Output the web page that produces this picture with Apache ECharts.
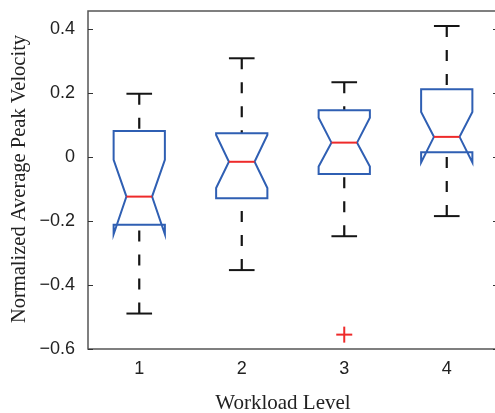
<!DOCTYPE html>
<html lang="en">
<head>
<meta charset="UTF-8">
<title>Normalized Average Peak Velocity</title>
<script src="https://cdn.jsdelivr.net/npm/echarts@6/dist/echarts.min.js"></script>
<style>
  html, body { margin: 0; padding: 0; background: #fff; overflow: hidden; }
  /* the plot frame runs a few pixels past the right edge in the original */
  #main { width: 502px; height: 413px; }
</style>
</head>
<body>
<div id="main"></div>
<script>
// values, one entry per workload level
var levels = [1, 2, 3, 4];
var upperWhisker = [0.199, 0.310, 0.235, 0.411];
var q3 = [0.082, 0.075, 0.147, 0.213];
var notchHigh = [-0.008, 0.070, 0.124, 0.142];
var median = [-0.123, -0.014, 0.046, 0.064];
var notchLow = [-0.241, -0.096, -0.029, -0.016];
var q1 = [-0.211, -0.128, -0.052, 0.016];
var lowerWhisker = [-0.489, -0.353, -0.247, -0.184];
var outlierLevel = [3];
var outlierValue = [-0.555];
var yTicks = [-0.6, -0.4, -0.2, 0, 0.2, 0.4];

var boxData = levels.map(function (lv, i) {
    return [lv, lowerWhisker[i], q1[i], notchLow[i], median[i], notchHigh[i], q3[i], upperWhisker[i]];
});
var outlierData = outlierLevel.map(function (lv, i) { return [lv, outlierValue[i]]; });

var chart = echarts.init(document.getElementById('main'));

function fmtY(v) {
    if (Math.abs(v) < 1e-9) return '0';
    return (v < 0 ? '\u2212' : '') + Math.abs(v).toFixed(1);
}

function renderBox(params, api) {
    var x = api.value(0);
    var lo = api.value(1), b = api.value(2), nl = api.value(3), m = api.value(4),
        nh = api.value(5), t = api.value(6), hi = api.value(7);
    var w = 0.25, n = 0.125;
    function p(dx, v) { return api.coord([x + dx, v]); }
    var dashed = { stroke: '#151515', lineWidth: 2.2, lineDash: [11, 13], fill: null };
    var solid = { stroke: '#151515', lineWidth: 2, fill: null };
    return {
        type: 'group',
        children: [
            { type: 'polyline', shape: { points: [p(0, hi), p(0, t)] }, style: dashed },
            { type: 'polyline', shape: { points: [p(0, lo), p(0, b)] }, style: dashed },
            { type: 'polyline', shape: { points: [p(-n, hi), p(n, hi)] }, style: solid },
            { type: 'polyline', shape: { points: [p(-n, lo), p(n, lo)] }, style: solid },
            {
                type: 'polygon',
                shape: {
                    points: [p(-w, b), p(-w, nl), p(-n, m), p(-w, nh), p(-w, t),
                             p(w, t), p(w, nh), p(n, m), p(w, nl), p(w, b)]
                },
                style: { stroke: '#2f5fb3', lineWidth: 2, fill: 'transparent' }
            },
            { type: 'polyline', shape: { points: [p(-n, m), p(n, m)] }, style: { stroke: '#ee2a2a', lineWidth: 2, fill: null } }
        ]
    };
}

function renderOutlier(params, api) {
    var c = api.coord([api.value(0), api.value(1)]);
    var s = 8;
    var st = { stroke: '#ee2a2a', lineWidth: 2, fill: null };
    return {
        type: 'group',
        children: [
            { type: 'polyline', shape: { points: [[c[0] - s, c[1]], [c[0] + s, c[1]]] }, style: st },
            { type: 'polyline', shape: { points: [[c[0], c[1] - s], [c[0], c[1] + s]] }, style: st }
        ]
    };
}

var yAxisBase = {
    type: 'value',
    min: -0.6,
    max: 0.458,
    splitLine: { show: false },
    axisLine: { show: false },
    axisTick: { show: true, inside: true, length: 5, customValues: yTicks, lineStyle: { color: '#333', width: 1 } }
};

chart.setOption({
    animation: false,
    grid: { left: 88, right: 4, top: 11, bottom: 64, show: true, borderColor: '#555', borderWidth: 1.5 },
    xAxis: {
        type: 'value',
        min: 0.5,
        max: 4.5,
        splitLine: { show: false },
        axisLine: { show: false },
        axisTick: { show: false },
        axisLabel: {
            customValues: levels,
            margin: 11,
            fontFamily: 'Liberation Sans',
            fontSize: 18,
            color: '#222'
        }
    },
    yAxis: [
        Object.assign({}, yAxisBase, {
            position: 'left',
            axisLabel: {
                customValues: yTicks,
                formatter: fmtY,
                margin: 13,
                fontFamily: 'Liberation Sans',
                fontSize: 18,
                color: '#222'
            }
        }),
        Object.assign({}, yAxisBase, { position: 'right', axisLabel: { show: false } })
    ],
    graphic: [
        {
            type: 'text',
            x: 20, y: 179,
            rotation: Math.PI / 2,
            style: {
                text: 'Normalized Average Peak Velocity',
                font: '20.5px "Liberation Serif"',
                fill: '#222',
                textAlign: 'center',
                textVerticalAlign: 'middle'
            }
        },
        {
            type: 'text',
            x: 283, y: 403,
            style: {
                text: 'Workload Level',
                font: '21px "Liberation Serif"',
                fill: '#222',
                textAlign: 'center',
                textVerticalAlign: 'middle'
            }
        }
    ],
    series: [
        { type: 'custom', renderItem: renderBox, data: boxData, encode: { x: 0, y: [1, 7] } },
        { type: 'custom', renderItem: renderOutlier, data: outlierData, encode: { x: 0, y: 1 } }
    ]
});
</script>
</body>
</html>
